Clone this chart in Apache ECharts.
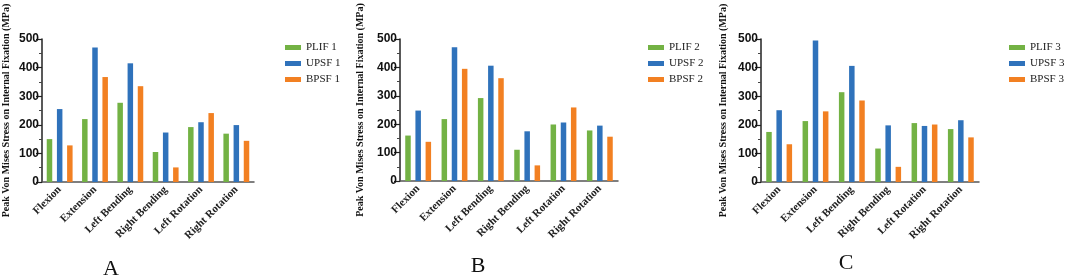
<!DOCTYPE html>
<html>
<head>
    <meta charset="utf-8">
    <title>Peak Von Mises Stress on Internal Fixation</title>
    <script src="https://cdn.jsdelivr.net/npm/echarts@6/dist/echarts.min.js"></script>
</head>
<body style="margin: 0">
    <div id="container" style="width: 1065px; height: 280px"></div>
    <script type="text/javascript">
        // categories (motions)
        var categories = ['Flexion', 'Extension', 'Left Bending', 'Right Bending', 'Left Rotation', 'Right Rotation'];
        var yTicks = [0, 100, 200, 300, 400, 500];

        // panel A
        var plif1 = [150, 220, 277, 105, 192, 169];
        var upsf1 = [255, 470, 415, 173, 209, 199];
        var bpsf1 = [128, 367, 335, 51, 241, 144];
        // panel B
        var plif2 = [160, 218, 292, 110, 199, 178];
        var upsf2 = [248, 471, 406, 175, 206, 195];
        var bpsf2 = [138, 395, 362, 55, 259, 156];
        // panel C
        var plif3 = [175, 213, 314, 117, 206, 185];
        var upsf3 = [251, 495, 406, 198, 196, 216];
        var bpsf3 = [132, 247, 285, 53, 201, 156];

        var panelLetters = ['A', 'B', 'C'];
        var yTitle = 'Peak Von Mises Stress on Internal Fixation (MPa)';

        var colors = ['#73b244', '#2f72bb', '#f28022'];
        var panels = [
            { names: ['PLIF 1', 'UPSF 1', 'BPSF 1'], data: [plif1, upsf1, bpsf1], left: 36, height: 143, gap: 31, legendLeft: 285, letter: [111, 269] },
            { names: ['PLIF 2', 'UPSF 2', 'BPSF 2'], data: [plif2, upsf2, bpsf2], left: 400, height: 142, gap: 35, legendLeft: 648, letter: [478, 266] },
            { names: ['PLIF 3', 'UPSF 3', 'BPSF 3'], data: [plif3, upsf3, bpsf3], left: 761, height: 143, gap: 33, legendLeft: 1009, letter: [846, 263] }
        ];

        var grid = [], xAxis = [], yAxis = [], series = [], legend = [], graphic = [];

        panels.forEach(function (p, i) {
            grid.push({ left: p.left, top: 39, width: 218, height: p.height });
            xAxis.push({
                type: 'category',
                gridIndex: i,
                data: categories,
                axisLine: { lineStyle: { color: '#555', width: 1.5 } },
                axisTick: { alignWithLabel: true, length: 4, lineStyle: { color: '#333', width: 1.2 } },
                axisLabel: {
                    rotate: 45,
                    margin: 6,
                    interval: 0,
                    fontFamily: 'Liberation Serif',
                    fontWeight: 'bold',
                    fontSize: 11,
                    color: '#222'
                }
            });
            yAxis.push({
                type: 'value',
                gridIndex: i,
                min: yTicks[0],
                max: yTicks[yTicks.length - 1],
                interval: 100,
                name: yTitle,
                nameLocation: 'middle',
                nameGap: p.gap,
                nameTextStyle: { fontFamily: 'Liberation Serif', fontWeight: 'bold', fontSize: 10, color: '#111' },
                axisLine: { show: true, lineStyle: { color: '#222', width: 1.5 } },
                axisTick: { show: true, length: 6, lineStyle: { color: '#222', width: 1.2 } },
                minorTick: { show: true, splitNumber: 2, length: 3, lineStyle: { color: '#444' } },
                splitLine: { show: false },
                axisLabel: {
                    margin: 3,
                    fontFamily: 'Liberation Sans',
                    fontWeight: 'bold',
                    fontSize: 12,
                    color: '#111'
                }
            });
            p.names.forEach(function (name, k) {
                series.push({
                    name: name,
                    type: 'bar',
                    xAxisIndex: i,
                    yAxisIndex: i,
                    barWidth: 5.5,
                    barGap: '85%',
                    itemStyle: { color: colors[k] },
                    data: p.data[k]
                });
            });
            // one legend per panel
            legend.push({
                data: p.names,
                orient: 'vertical',
                left: p.legendLeft,
                top: 42,
                padding: 0,
                icon: 'rect',
                itemWidth: 16,
                itemHeight: 5,
                itemGap: 5,
                textStyle: { fontFamily: 'Liberation Serif', fontSize: 11, color: '#222', padding: [0, 0, 0, 0] }
            });
            graphic.push({
                type: 'text',
                x: p.letter[0],
                y: p.letter[1],
                style: {
                    text: panelLetters[i],
                    font: '22px "Liberation Serif"',
                    fill: '#111',
                    textAlign: 'center',
                    textVerticalAlign: 'middle'
                }
            });
        });

        var myChart = echarts.init(document.getElementById('container'));
        myChart.setOption({
            animation: false,
            backgroundColor: '#fff',
            grid: grid,
            xAxis: xAxis,
            yAxis: yAxis,
            legend: legend,
            graphic: graphic,
            series: series
        });
    </script>
</body>
</html>
